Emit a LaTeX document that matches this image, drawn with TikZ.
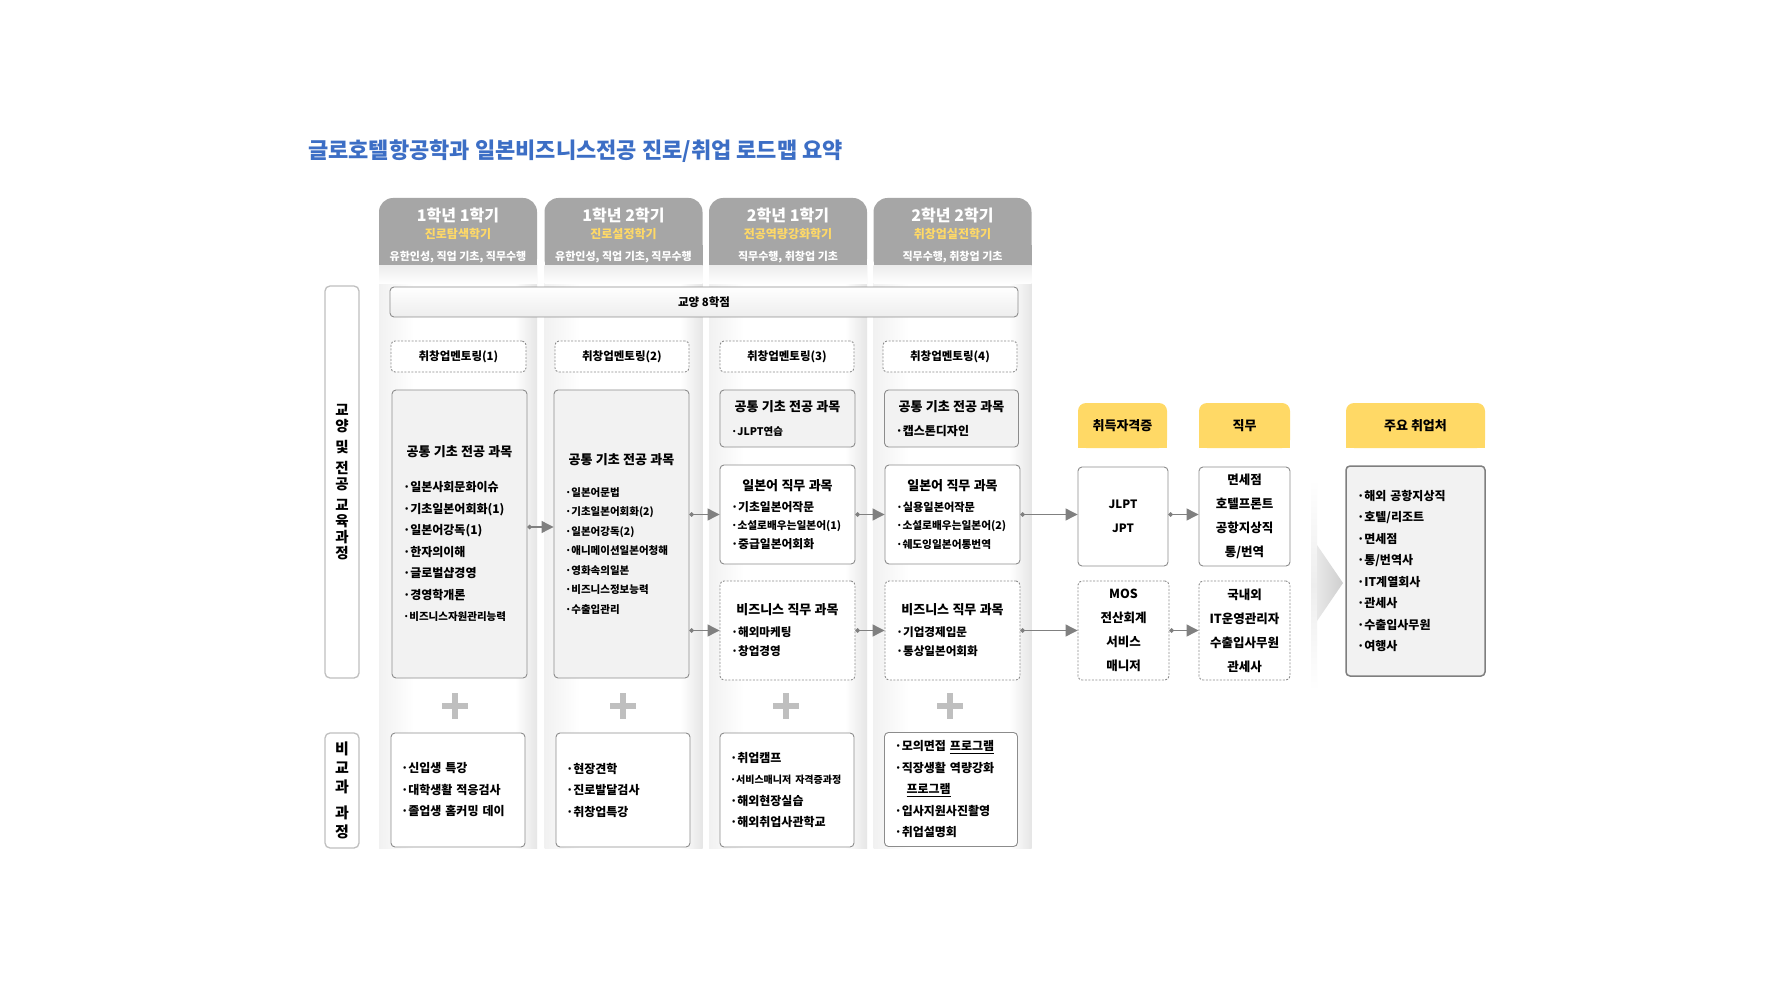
\documentclass[tikz,border=0pt]{standalone}
\usepackage{fontspec}
\setmainfont{Noto Sans CJK KR}
\newfontfamily\wfont{Noto Sans CJK KR}[WordSpace=2.6]
\usetikzlibrary{arrows.meta}
\definecolor{hdrgray}{HTML}{A6A6A6}
\definecolor{hdryel}{HTML}{FFD966}
\definecolor{ttlblue}{HTML}{3C6EC5}
\definecolor{bord}{HTML}{8C8C8C}
\definecolor{boxfill}{HTML}{F2F2F2}
\definecolor{lblgray}{HTML}{BFBFBF}
\definecolor{yelbox}{HTML}{FFD966}
\definecolor{arrgray}{HTML}{808080}
\definecolor{plusgray}{HTML}{BFBFBF}
\definecolor{mainbord}{HTML}{7F7F7F}
\setlength{\parindent}{0pt}
\newcommand\sz[2]{{\fontsize{#1}{12}\selectfont #2}}
\newcommand\bxc[5][10.5]{{\centering\wfont\bfseries\fontsize{13}{15}\selectfont #2\par}\vspace{#3}{\bfseries\fontsize{#1}{#4}\selectfont #5\par}}
\tikzset{
  hdr/.style={fill=hdrgray, rounded corners=14pt, minimum width=158pt, minimum height=75pt,
    text=white, align=center, inner sep=0pt, font=\bfseries\fontsize{11}{19}\selectfont},
  bbox/.style={draw=bord, line width=0.9pt, rounded corners=4pt, inner xsep=11pt, inner ysep=2pt},
  greybox/.style={bbox, fill=boxfill, align=left},
  whitebox/.style={bbox, fill=white, align=left},
  dbox/.style={bbox, fill=white, align=left, dash pattern=on 2pt off 1.5pt},
  ment/.style={dbox, align=center, minimum height=31pt, font=\bfseries\fontsize{11.5}{13}\selectfont},
  rbox/.style={bbox, fill=white, align=center, minimum height=99pt, inner xsep=4pt, font=\bfseries\fontsize{12.5}{24}\selectfont},
  rdbox/.style={rbox, dash pattern=on 2pt off 1.5pt},
  ybox/.style={fill=yelbox, rounded corners=8pt, minimum height=45pt, inner sep=0pt,
    font=\bfseries\fontsize{13}{15}\selectfont},
  lbl/.style={draw=lblgray, line width=1.3pt, rounded corners=5pt, fill=white, align=center,
    minimum width=34pt, inner sep=0pt},
  conn/.style={draw=arrgray, line width=1.1pt, {Circle[length=4.5pt]}-{Triangle[length=12pt,width=12pt]}},
  plusst/.style={draw=plusgray, line width=6.5pt},
  extra/.style={bbox, fill=white, align=left, minimum height=114pt,
    font=\wfont\bfseries\fontsize{12}{21.5}\selectfont}
}
\begin{document}
\begin{tikzpicture}[x=1pt,y=-1pt]
\useasboundingbox[fill=white] (0,0) rectangle (1792,1008);

% title
\node[anchor=west, inner sep=0pt, text=ttlblue, font=\bfseries\fontsize{22}{26}\selectfont] (title) at (308,151)
  {글로호텔항공학과 일본비즈니스전공 진로/취업 로드맵 요약};

% headers
\fill[hdrgray] (379,245) rectangle (537,266);
\fill[hdrgray] (544.5,245) rectangle (702.5,266);
\fill[hdrgray] (709,245) rectangle (867,266);
\fill[hdrgray] (873.5,245) rectangle (1031.5,266);
\node[hdr] (h1) at (458,235.5) {{\fontsize{16}{18}\selectfont 1학년 1학기}\\[-2pt]{\color{hdryel}\fontsize{12}{14}\selectfont 진로탐색학기}\\[3pt]{\fontsize{11}{13}\selectfont 유한인성, 직업 기초, 직무수행}};
\node[hdr] (h2) at (623.5,235.5) {{\fontsize{16}{18}\selectfont 1학년 2학기}\\[-2pt]{\color{hdryel}\fontsize{12}{14}\selectfont 진로설정학기}\\[3pt]{\fontsize{11}{13}\selectfont 유한인성, 직업 기초, 직무수행}};
\node[hdr] (h3) at (788,235.5) {{\fontsize{16}{18}\selectfont 2학년 1학기}\\[-2pt]{\color{hdryel}\fontsize{12}{14}\selectfont 전공역량강화학기}\\[3pt]{\fontsize{11}{13}\selectfont 직무수행, 취창업 기초}};
\node[hdr] (h4) at (952.5,235.5) {{\fontsize{16}{18}\selectfont 2학년 2학기}\\[-2pt]{\color{hdryel}\fontsize{12}{14}\selectfont 취창업실전학기}\\[3pt]{\fontsize{11}{13}\selectfont 직무수행, 취창업 기초}};

% column bands
\foreach \L/\R in {379/537, 544.5/702.5, 709/867, 873.5/1031.5}{
  \fill[white] (\L,266) rectangle (\R,848);
  \shade[left color=gray!11, right color=white] (\L,266) rectangle (\L+35,848);
  \shade[left color=white, right color=gray!20] (\R-22,266) rectangle (\R,848);
  \shade[top color=gray!14, bottom color=white] (\L,266) rectangle (\R,284);
}

% left labels
\node[lbl, minimum height=392pt, font=\bfseries\fontsize{14.5}{16}\selectfont] (lb1) at (342,482)
  {교\\양\\[5pt]및\\[5pt]전\\공\\[5pt]교\\육\\과\\정};
\node[lbl, minimum height=115pt, font=\bfseries\fontsize{15}{19}\selectfont] (lb2) at (342,790.5)
  {비\\교\\과\\[7pt]과\\정};

% 교양
\node[draw=bord, line width=0.9pt, rounded corners=4pt, top color=white, bottom color=gray!14,
  minimum width=628pt, minimum height=30pt, inner sep=0pt, font=\bfseries\fontsize{11.5}{13}\selectfont] (g) at (704,302) {교양 8학점};

% mentoring
\node[ment, minimum width=135pt] (m1) at (458.5,356.5) {취창업멘토링(1)};
\node[ment, minimum width=134pt] (m2) at (622,356.5) {취창업멘토링(2)};
\node[ment, minimum width=134pt] (m3) at (787,356.5) {취창업멘토링(3)};
\node[ment, minimum width=134pt] (m4) at (950,356.5) {취창업멘토링(4)};

% big boxes
\node[greybox, minimum width=135pt, minimum height=288pt, text width=113pt] (c1) at (459.5,534)
  {\bxc[12]{공통 기초 전공 과목}{13.5pt}{21.5pt}{·일본사회문화이슈\\·기초일본어회화(1)\\·일본어강독(1)\\·한자의이해\\·글로벌샵경영\\·경영학개론\\\sz{10.5}{·비즈니스자원관리능력}}};
\node[greybox, minimum width=135pt, minimum height=288pt, text width=113pt] (c2) at (621.5,534)
  {\bxc{공통 기초 전공 과목}{12.5pt}{19.5pt}{·일본어문법\\·기초일본어회화(2)\\·일본어강독(2)\\·애니메이션일본어청해\\·영화속의일본\\·비즈니스정보능력\\·수출입관리}};

\node[greybox, minimum width=135pt, minimum height=57pt, text width=113pt] (b3) at (787.5,418.5)
  {\bxc{공통 기초 전공 과목}{5pt}{19pt}{·JLPT연습}};
\node[greybox, minimum width=134pt, minimum height=57pt, text width=112pt] (b4) at (951.5,418.5)
  {\bxc[12]{공통 기초 전공 과목}{5pt}{19pt}{·캡스톤디자인}};

\node[whitebox, minimum width=135pt, minimum height=99pt, text width=113pt] (j3) at (787.5,514.5)
  {\bxc[11.8]{일본어 직무 과목}{2.5pt}{18.5pt}{·기초일본어작문\\\sz{10.7}{·소설로배우는일본어(1)}\\·중급일본어회화}};
\node[whitebox, minimum width=135pt, minimum height=99pt, text width=113pt] (j4) at (952.5,514.5)
  {\bxc[11.2]{일본어 직무 과목}{2.5pt}{18.5pt}{·실용일본어작문\\\sz{10.7}{·소설로배우는일본어(2)}\\\sz{10.7}{·쉐도잉일본어통번역}}};

\node[dbox, minimum width=135pt, minimum height=99pt, text width=113pt] (z3) at (787.5,630.5)
  {\bxc[11.6]{비즈니스 직무 과목}{3pt}{19pt}{·해외마케팅\\·창업경영}};
\node[dbox, minimum width=135pt, minimum height=99pt, text width=113pt] (z4) at (952.5,630.5)
  {\bxc[11.6]{비즈니스 직무 과목}{3pt}{19pt}{·기업경제입문\\·통상일본어회화}};

% plus signs
\foreach \px in {455,623,786,950}{
  \draw[plusst] (\px,693) -- (\px,719);
  \draw[plusst] (\px-13,706) -- (\px+13,706);
}

% extracurricular
\node[extra, minimum width=134pt, text width=114pt, inner xsep=10pt] (e1) at (458,790)
  {·신입생 특강\\·대학생활 적응검사\\·졸업생 홈커밍 데이\par};
\node[extra, minimum width=134pt, text width=114pt, inner xsep=10pt] (e2) at (623,790)
  {·현장견학\\·진로발달검사\\·취창업특강\par};
\node[extra, minimum width=134pt, text width=114pt, inner xsep=10pt] (e3) at (787,790)
  {·취업캠프\\\mbox{\normalfont\bfseries\fontsize{10}{12}\selectfont ·서비스매니저 자격증과정}\\·해외현장실습\\·해외취업사관학교\par};
\node[extra, minimum width=133pt, text width=113pt, inner xsep=10pt] (e4) at (951,789.5)
  {·모의면접 \underline{프로그램}\\·직장생활 역량강화\\\hspace*{12pt}\underline{프로그램}\\·입사지원사진촬영\\·취업설명회\par};

% right side headers
\fill[yelbox] (1078,430) rectangle (1167,448);
\fill[yelbox] (1199,430) rectangle (1290,448);
\fill[yelbox] (1346,430) rectangle (1485,448);
\node[ybox, minimum width=89pt] (y1) at (1122.5,425.5) {취득자격증};
\node[ybox, minimum width=91pt] (y2) at (1244.5,425.5) {직무};
\node[ybox, minimum width=139pt] (y3) at (1415.5,425.5) {주요 취업처};

\node[rbox, minimum width=90pt, font=\bfseries\fontsize{11.5}{24}\selectfont] (k1) at (1123,516.5) {JLPT\\JPT};
\node[rdbox, minimum width=91pt] (k2) at (1123.5,630.5) {MOS\\전산회계\\서비스\\매니저};
\node[rbox, minimum width=91pt] (w1) at (1244.5,516.5) {면세점\\호텔프론트\\공항지상직\\통/번역};
\node[rdbox, minimum width=91pt] (w2) at (1244.5,630.5) {국내외\\IT운영관리자\\수출입사무원\\관세사};

% chevron
\shade[top color=white, bottom color=white, middle color=gray!14] (1311,480) rectangle (1317,690);
\shade[left color=gray!18, right color=gray!38] (1317,545) -- (1343,583) -- (1317,621) -- cycle;

\node[draw=mainbord, line width=1.5pt, rounded corners=4pt, fill=boxfill, minimum width=139pt, minimum height=210pt,
  text width=117pt, inner xsep=11pt, align=left, font=\bfseries\fontsize{12}{21.5}\selectfont] (p) at (1415.5,571)
  {·해외 공항지상직\\·호텔/리조트\\·면세점\\·통/번역사\\·IT계열회사\\·관세사\\·수출입사무원\\·여행사\par};

% connectors
\draw[conn] ([yshift=7pt]c1.east) -- ([yshift=7pt]c2.west);
\draw[conn] (c2.east |- j3.west) -- (j3.west);
\draw[conn] (c2.east |- z3.west) -- (z3.west);
\draw[conn] (j3.east) -- (j4.west);
\draw[conn] (z3.east) -- (z4.west);
\draw[conn] (j4.east) -- (j4.east -| k1.west);
\draw[conn] (z4.east) -- (z4.east -| k2.west);
\draw[conn] (k1.east |- j4.east) -- (j4.east -| w1.west);
\draw[conn] (k2.east |- z4.east) -- (z4.east -| w2.west);
\end{tikzpicture}
\end{document}
